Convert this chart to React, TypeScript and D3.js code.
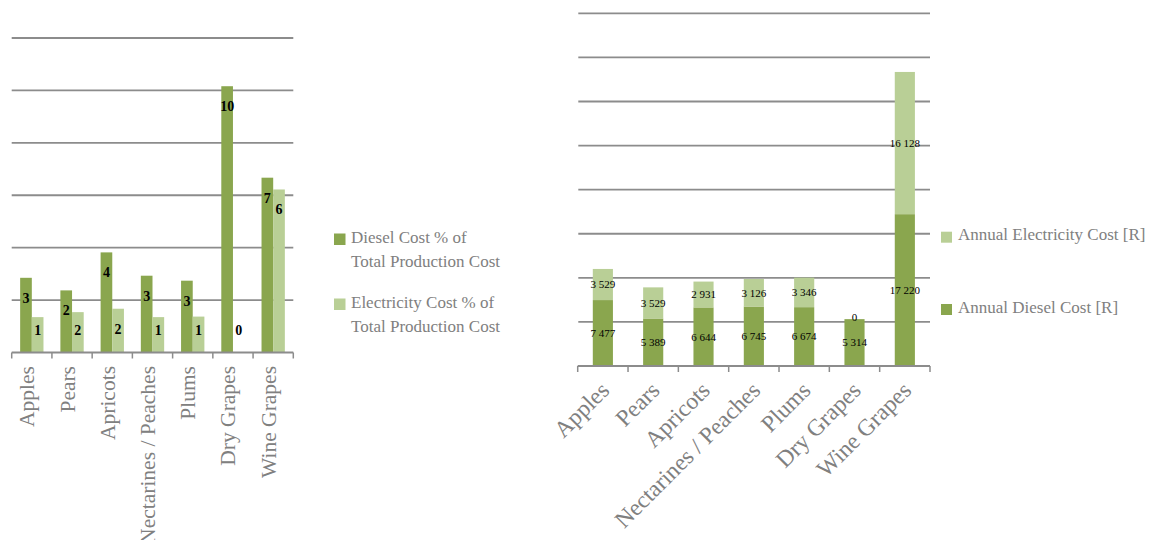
import React from "react";
import * as d3 from "d3";

const categories = ["Apples", "Pears", "Apricots", "Nectarines / Peaches", "Plums", "Dry Grapes", "Wine Grapes"];

// Left chart: % of total production cost
const dieselPct = [2.85, 2.37, 3.82, 2.93, 2.74, 10.16, 6.67];
const electricityPct = [1.35, 1.54, 1.67, 1.35, 1.37, 0, 6.22];
const leftTicks = [0, 2, 4, 6, 8, 10, 12];

// Right chart: annual costs [R]
const annualDiesel = [7477, 5389, 6644, 6745, 6674, 5314, 17220];
const annualElectricity = [3529, 3529, 2931, 3126, 3346, 0, 16128];
const rightTicks = [0, 5000, 10000, 15000, 20000, 25000, 30000, 35000, 40000];

const leftSeries = ["Diesel Cost % of|Total Production Cost", "Electricity Cost % of|Total Production Cost"];
const rightSeries = ["Annual Electricity Cost [R]", "Annual Diesel Cost [R]"];

const DIESEL = "#8aa64e";
const ELEC = "#b9cf96";
const GRID = "#8c8c8c";
const TEXT_GRAY = "#808080";
const FONT = "'Liberation Serif', 'Times New Roman', serif";

const fmtSpace = d3.formatLocale({ thousands: " ", grouping: [3], decimal: ".", currency: ["", ""] }).format(",.0f");
const fmtInt = d3.format(".0f");

function LeftChart() {
  const x = d3.scaleBand<string>().domain(categories).range([11.7, 293.3]).paddingInner(0).paddingOuter(0);
  const xs = d3.scaleBand<string>().domain(["d", "e"]).range([0, x.bandwidth()]).paddingInner(0).paddingOuter(0.725);
  const y = d3.scaleLinear().domain([0, 12]).range([352.5, 38]);
  const bottom = y(0);
  const labelY = (v: number) => Math.min(y(v) + 20, bottom - 22);
  return (
    <g>
      {leftTicks.slice(1).map((t) => (
        <line key={t} x1={11.7} x2={293.3} y1={y(t)} y2={y(t)} stroke={GRID} strokeWidth={1.8} />
      ))}
      {categories.map((c, i) => (
        <g key={c}>
          <rect x={x(c)! + xs("d")!} y={y(dieselPct[i])} width={xs.bandwidth()} height={bottom - y(dieselPct[i])} fill={DIESEL} />
          <rect x={x(c)! + xs("e")!} y={y(electricityPct[i])} width={xs.bandwidth()} height={bottom - y(electricityPct[i])} fill={ELEC} />
        </g>
      ))}
      <line x1={11.7} x2={293.3} y1={bottom} y2={bottom} stroke={GRID} strokeWidth={1.8} />
      {[...categories.map((c) => x(c)!), 293.3].map((v, i) => (
        <line key={i} x1={v} x2={v} y1={bottom} y2={bottom + 6} stroke={GRID} strokeWidth={1.5} />
      ))}
      {categories.map((c, i) => (
        <g key={c + "l"} fontFamily={FONT} fontWeight="bold" fontSize={14} fill="#000" textAnchor="middle">
          <text x={x(c)! + xs("d")! + xs.bandwidth() / 2} y={labelY(dieselPct[i])} dy="0.35em">{fmtInt(dieselPct[i])}</text>
          <text x={x(c)! + xs("e")! + xs.bandwidth() / 2} y={labelY(electricityPct[i])} dy="0.35em">{fmtInt(electricityPct[i])}</text>
        </g>
      ))}
      {categories.map((c) => (
        <text key={c + "x"} transform={`translate(${x(c)! + x.bandwidth() / 2 + 2.5},366) rotate(-90)`} textAnchor="end" fontFamily={FONT} fontSize={21.5} fill={TEXT_GRAY}>{c}</text>
      ))}
      {leftSeries.map((s, i) => {
        const lines = s.split("|");
        const top = 233.5 + i * 65;
        return (
          <g key={s}>
            <rect x={334} y={top} width={11.5} height={11.5} fill={i === 0 ? DIESEL : ELEC} />
            {lines.map((ln, j) => (
              <text key={j} x={351} y={top + 9.2 + j * 24} fontFamily={FONT} fontSize={17} fill={TEXT_GRAY}>{ln}</text>
            ))}
          </g>
        );
      })}
    </g>
  );
}

function RightChart() {
  const x = d3.scaleBand<string>().domain(categories).range([577.7, 930]).paddingInner(0.6).paddingOuter(0.3);
  const step = x.step();
  const y = d3.scaleLinear().domain([0, 40000]).range([366, 13.3]);
  const bottom = y(0);
  const stack = d3.stack<number>().keys(["d", "e"]).value((i, k) => (k === "d" ? annualDiesel[i] : annualElectricity[i]));
  const layers = stack(categories.map((_, i) => i));
  return (
    <g>
      {rightTicks.slice(1).map((t) => (
        <line key={t} x1={578.3} x2={930} y1={y(t)} y2={y(t)} stroke={GRID} strokeWidth={1.8} />
      ))}
      {layers.map((layer, li) => (
        <g key={li} fill={li === 0 ? DIESEL : ELEC}>
          {layer.map((seg, i) => (
            <rect key={i} x={x(categories[i])!} y={y(seg[1])} width={x.bandwidth()} height={y(seg[0]) - y(seg[1])} />
          ))}
        </g>
      ))}
      <line x1={577.7} x2={930} y1={bottom} y2={bottom} stroke={GRID} strokeWidth={1.8} />
      {d3.range(categories.length + 1).map((i) => (
        <line key={i} x1={577.7 + i * step} x2={577.7 + i * step} y1={bottom} y2={bottom + 6} stroke={GRID} strokeWidth={1.5} />
      ))}
      {layers.map((layer, li) => (
        <g key={"l" + li} fontFamily={FONT} fontSize={11} fill="#000" textAnchor="middle">
          {layer.map((seg, i) => (
            <text key={i} x={x(categories[i])! + x.bandwidth() / 2} y={(y(seg[0]) + y(seg[1])) / 2 - (seg[1] - seg[0] === 0 ? 2 : 0)} dy="0.35em">
              {fmtSpace(seg[1] - seg[0])}
            </text>
          ))}
        </g>
      ))}
      {categories.map((c) => (
        <text key={c + "x"} transform={`translate(${x(c)! + x.bandwidth() / 2 + 2},386) rotate(-45)`} textAnchor="end" dy="0.35em" fontFamily={FONT} fontSize={23.5} fill={TEXT_GRAY}>{c}</text>
      ))}
      {rightSeries.map((s, i) => {
        const top = 231.7 + i * 72.3;
        return (
          <g key={s}>
            <rect x={941} y={top} width={11} height={11} fill={i === 0 ? ELEC : DIESEL} />
            <text x={958} y={top + 8.5} fontFamily={FONT} fontSize={17} fill={TEXT_GRAY}>{s}</text>
          </g>
        );
      })}
    </g>
  );
}

export default function App() {
  return (
    <svg width={1151} height={540} style={{ position: "absolute", left: 0, top: 0, background: "#fff" }}>
      <LeftChart />
      <RightChart />
    </svg>
  );
}
